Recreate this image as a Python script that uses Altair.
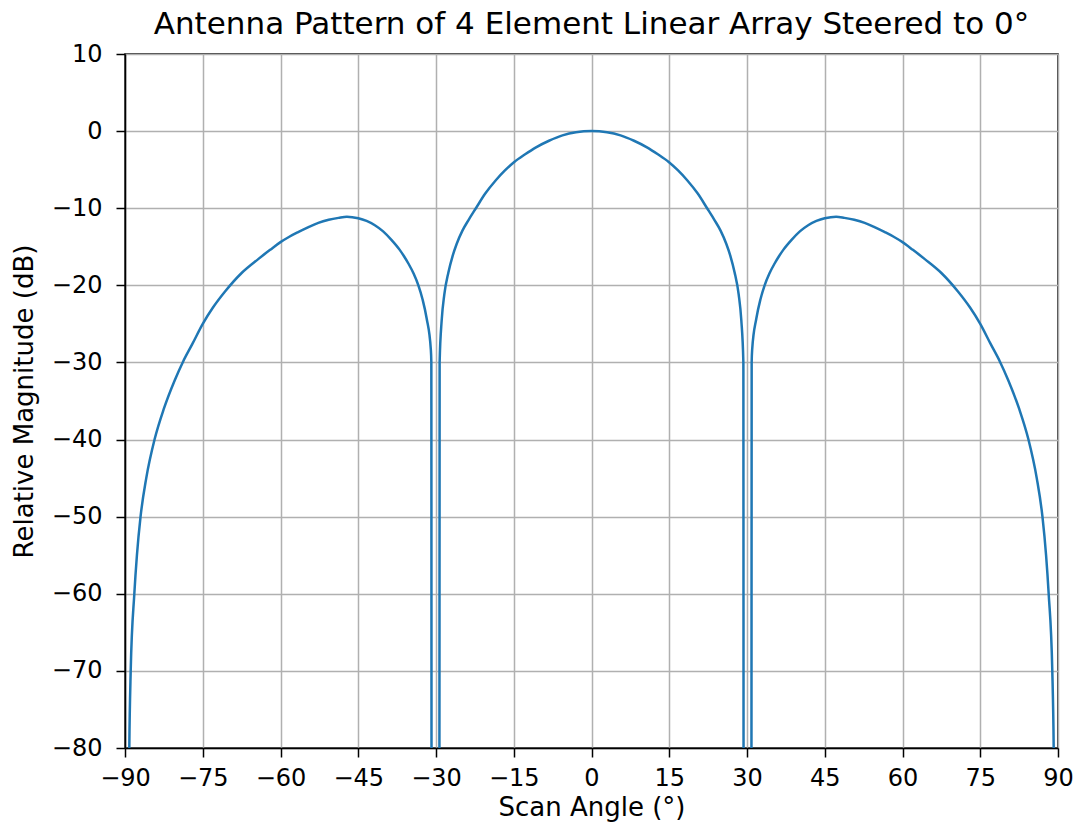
import altair as alt
import pandas as pd

# Values (left side lobe, then left half of main lobe)
left_deg = [-89.35, -89.17, -88.9, -88.2, -87.7, -87.0, -85.9, -84.3, -82.5, -80.4,
            -78.8, -77.0, -75.0, -73.0, -70.7, -67.5, -64.3, -62.0, -60.0, -58.3,
            -56.6, -54.6, -52.7, -50.7, -48.8, -47.2, -45.0, -43.4, -41.8, -40.2,
            -38.6, -37.0, -36.2, -35.3, -34.3, -33.4, -32.6, -31.8, -31.0, -30.9,
            -30.85]
left_db = [-95, -80, -70, -60, -55, -50, -45, -40, -36, -32.3,
           -29.9, -27.6, -25.0, -22.85, -20.8, -18.4, -16.6, -15.4, -14.4, -13.7,
           -13.1, -12.45, -11.9, -11.5, -11.25, -11.1, -11.3, -11.65, -12.2, -13.0,
           -14.1, -15.4, -16.2, -17.2, -18.5, -20.0, -21.8, -24.3, -28.3, -30,
           -95]
main_deg = [-29.35, -29.3, -28.9, -28.4, -27.6, -26.8, -26.0, -24.9, -23.7, -22.3,
            -20.5, -18.5, -16.7, -14.9, -12.8, -10.7, -8.2, -5.6, -3.0, 0.0]
main_db = [-95, -30, -24.5, -21.2, -18.3, -16.2, -14.6, -12.9, -11.5, -10.0,
           -8.1, -6.4, -5.1, -4.0, -3.0, -2.1, -1.25, -0.55, -0.15, 0.0]

# the right half of the picture mirrors the left half
right_main_deg = [-d for d in reversed(main_deg[:-1])]
right_main_db = list(reversed(main_db[:-1]))
right_deg = [-d for d in reversed(left_deg)]
right_db = list(reversed(left_db))

angles = left_deg + main_deg + right_main_deg + right_deg
mags = left_db + main_db + right_main_db + right_db

x_ticks = [-90, -75, -60, -45, -30, -15, 0, 15, 30, 45, 60, 75, 90]
y_ticks = [10, 0, -10, -20, -30, -40, -50, -60, -70, -80]

df = pd.DataFrame({"angle": angles, "mag": mags, "i": list(range(len(angles)))})

FONT = "DejaVu Sans"

chart = alt.Chart(df).mark_line(
    color="#1f77b4", strokeWidth=2.5, clip=True, interpolate="monotone"
).encode(
    x=alt.X("angle:Q",
            scale=alt.Scale(domain=[-90, 90], nice=False, zero=False),
            axis=alt.Axis(values=x_ticks, title="Scan Angle (°)", format="d",
                          labelFlush=False, labelPadding=9, titlePadding=4)),
    y=alt.Y("mag:Q",
            scale=alt.Scale(domain=[-80, 10], nice=False, zero=False),
            axis=alt.Axis(values=y_ticks, title="Relative Magnitude (dB)", format="d",
                          labelFlush=False, labelPadding=14, titlePadding=14)),
    order="i:Q",
).properties(
    width=933,
    height=694,
    title="Antenna Pattern of 4 Element Linear Array Steered to 0°",
    autosize=alt.AutoSizeParams(type="none"),
    padding={"left": 125, "top": 54, "right": 20, "bottom": 82},
).configure_view(
    stroke="black", strokeWidth=1.5
).configure_axis(
    labelFont=FONT, labelFontSize=24, labelColor="black",
    titleFont=FONT, titleFontSize=26, titleColor="black", titleFontWeight="normal",
    domainColor="black", domainWidth=1.5,
    tickColor="black", tickWidth=1.5, tickSize=9,
    gridColor="#b0b0b0", gridWidth=1.5,
).configure_title(
    font=FONT, fontSize=31, fontWeight="normal", color="black", anchor="middle", offset=1
)

chart.save("out.html", embed_options={"renderer": "svg", "actions": False})
